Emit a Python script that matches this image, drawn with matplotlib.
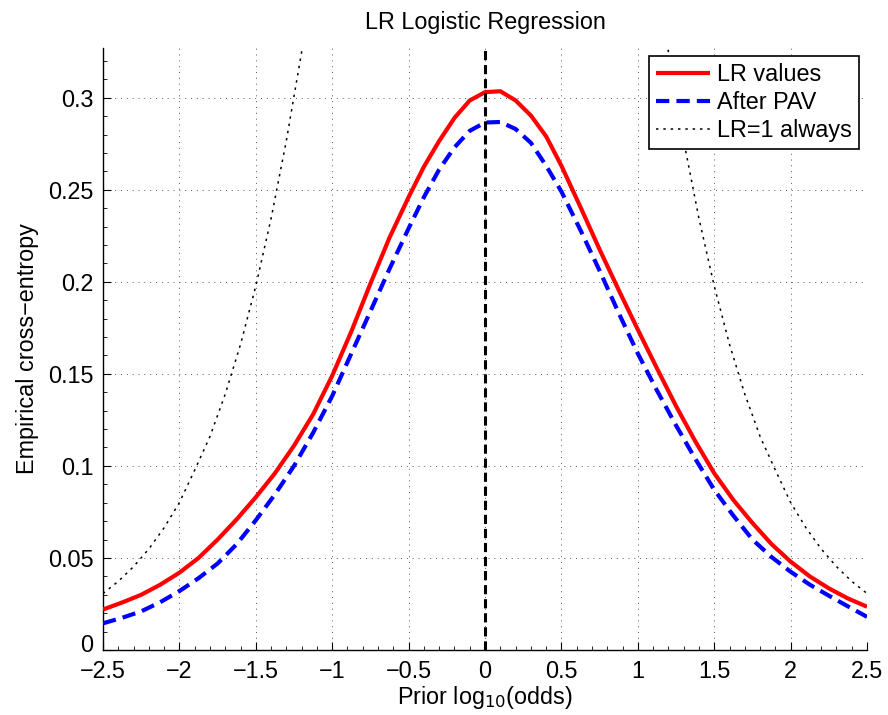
import numpy as np
import matplotlib
matplotlib.use("Agg")
import matplotlib.pyplot as plt
import matplotlib.transforms as mtransforms
from matplotlib.ticker import MultipleLocator

# ---- data ----
x_lr = [-2.5, -2.375, -2.25, -2.125, -2.0, -1.875, -1.75, -1.625, -1.5, -1.375, -1.25, -1.125,
        -1.0, -0.875, -0.75, -0.625, -0.5, -0.4, -0.3, -0.2, -0.1,
        0.0, 0.1, 0.2, 0.3, 0.4, 0.5, 0.625, 0.75, 0.875, 1.0, 1.125, 1.25, 1.375,
        1.5, 1.625, 1.75, 1.875, 2.0, 2.125, 2.25, 2.375, 2.5]
lr_values = [0.022, 0.0258, 0.030, 0.0355, 0.042, 0.050, 0.060, 0.071, 0.083, 0.096, 0.111, 0.128,
             0.149, 0.173, 0.199, 0.224, 0.246, 0.2625, 0.2765, 0.289, 0.2985,
             0.303, 0.3035, 0.2985, 0.2903, 0.279, 0.263, 0.2405, 0.2175, 0.1955, 0.174, 0.153,
             0.1325, 0.1135, 0.096, 0.0815, 0.069, 0.0575, 0.048, 0.040, 0.0335, 0.028, 0.0235]
after_pav = [0.0145, 0.0175, 0.021, 0.026, 0.032, 0.039, 0.047, 0.0575, 0.0705, 0.0845, 0.100, 0.118,
             0.138, 0.161, 0.184, 0.207, 0.229, 0.246, 0.261, 0.273, 0.282,
             0.2865, 0.2868, 0.283, 0.2755, 0.263, 0.249, 0.228, 0.206, 0.183, 0.161, 0.141,
             0.122, 0.104, 0.087, 0.073, 0.060, 0.0505, 0.0425, 0.0355, 0.0295, 0.0237, 0.018]

x_ref_left = [-2.5, -2.4, -2.3, -2.2, -2.1, -2.0, -1.9, -1.8, -1.7, -1.6, -1.5, -1.4, -1.3, -1.2, -1.1]
ref_left = [0.0307, 0.0373, 0.0453, 0.0549, 0.0664, 0.0801, 0.0977, 0.1160, 0.1390, 0.1660,
            0.1977, 0.2344, 0.2767, 0.3249, 0.3792]
x_ref_right = [1.1, 1.2, 1.3, 1.4, 1.5, 1.6, 1.7, 1.8, 1.9, 2.0, 2.1, 2.2, 2.3, 2.4, 2.5]
ref_right = [0.3792, 0.3249, 0.2767, 0.2344, 0.1977, 0.1660, 0.1390, 0.1160, 0.0977, 0.0801,
             0.0664, 0.0549, 0.0453, 0.0373, 0.0307]

xticks = [-2.5, -2, -1.5, -1, -0.5, 0, 0.5, 1, 1.5, 2, 2.5]
xtick_labels = ["\u22122.5", "\u22122", "\u22121.5", "\u22121", "\u22120.5", "0",
                "0.5", "1", "1.5", "2", "2.5"]
yticks = [0, 0.05, 0.1, 0.15, 0.2, 0.25, 0.3]
ytick_labels = ["0", "0.05", "0.1", "0.15", "0.2", "0.25", "0.3"]
x_range = [-2.5, 2.5]
y_range = [0, 0.327]

# ---- figure ----
plt.rcParams['font.family'] = ['Liberation Sans', 'DejaVu Sans']
fs = 16.8

fig = plt.figure(figsize=(8.88, 7.15), dpi=100)
ax = fig.add_axes([0.116, 0.0909, 0.8604, 0.842])

ax.plot(x_lr, lr_values, color='red', lw=3.0, label='LR values', solid_capstyle='butt',
        solid_joinstyle='round', zorder=4)
ax.plot(x_lr, after_pav, color='blue', lw=3.0, dashes=(3.2, 1.7), label='After PAV', zorder=5)
ax.plot(x_ref_left, ref_left, color='black', lw=1.1, dashes=(1.6, 3.2), label='LR=1 always', zorder=3)
ax.plot(x_ref_right, ref_right, color='black', lw=1.1, dashes=(1.6, 3.2), zorder=3)
ax.axvline(0, color='black', lw=2.2, dashes=(3.0, 1.6), zorder=6)

ax.set_xlim(x_range)
ax.set_ylim(y_range)
ax.set_xticks(xticks)
ax.set_xticklabels(xtick_labels, fontsize=fs)
ax.set_yticks(yticks)
ax.set_yticklabels(ytick_labels, fontsize=fs)
ax.xaxis.set_minor_locator(MultipleLocator(0.1))
ax.yaxis.set_minor_locator(MultipleLocator(0.01))
ax.tick_params(which='major', direction='in', length=6, width=0.8)
ax.tick_params(which='minor', direction='in', length=3, width=0.6)
ax.tick_params(axis='x', which='major', pad=7)
ax.tick_params(axis='y', which='major', pad=7)

# nudge the "0" y label slightly up so it does not collide with the first x label
zero_lbl = ax.get_yticklabels()[0]
zero_lbl.set_transform(zero_lbl.get_transform() +
                       mtransforms.ScaledTranslation(0, 5 / 72, fig.dpi_scale_trans))

ax.spines['top'].set_visible(False)
ax.spines['right'].set_visible(False)
for s in ('left', 'bottom'):
    ax.spines[s].set_linewidth(1.0)

ax.grid(True, which='major', color='#555555', lw=0.7, linestyle=(0, (1, 5)))

ax.set_title('LR Logistic Regression', fontsize=fs, pad=14)
ax.set_xlabel('Prior log$_{10}$(odds)', fontsize=fs, labelpad=1)
ax.set_ylabel('Empirical cross\u2212entropy', fontsize=fs, labelpad=6)

leg = ax.legend(loc='upper right', fontsize=fs, frameon=True, fancybox=False,
                edgecolor='black', framealpha=1, borderpad=0.3, labelspacing=0.22,
                handlelength=2.3, handletextpad=0.3, borderaxespad=0.35)
leg.get_frame().set_linewidth(1.2)

fig.savefig('out.png', dpi=100)
